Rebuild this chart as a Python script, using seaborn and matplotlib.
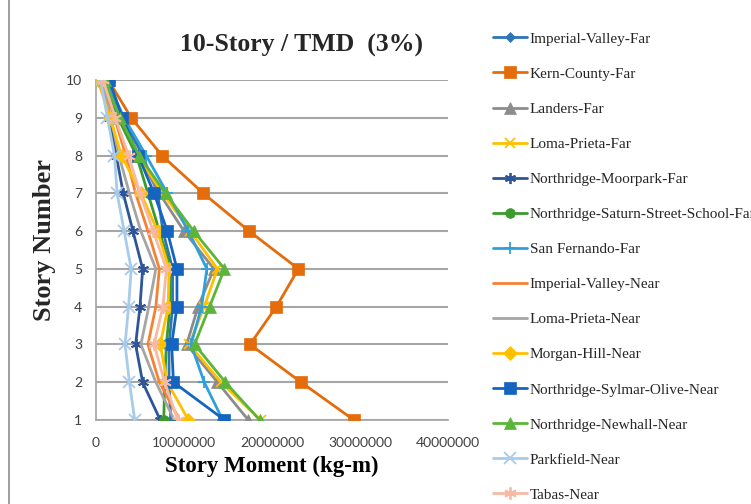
import numpy as np
import pandas as pd
import matplotlib
matplotlib.use("Agg")
import matplotlib.pyplot as plt
import seaborn as sns
from matplotlib.lines import Line2D

stories = [1, 2, 3, 4, 5, 6, 7, 8, 9, 10]

records = [
    "Imperial-Valley-Far", "Kern-County-Far", "Landers-Far", "Loma-Prieta-Far",
    "Northridge-Moorpark-Far", "Northridge-Saturn-Street-School-Far", "San Fernando-Far",
    "Imperial-Valley-Near", "Loma-Prieta-Near", "Morgan-Hill-Near",
    "Northridge-Sylmar-Olive-Near", "Northridge-Newhall-Near", "Parkfield-Near", "Tabas-Near",
]

# story moment (kg-m), story 1 -> 10
imperial_valley_far = [8.5e6, 8.3e6, 8.3e6, 8.7e6, 8.7e6, 7.6e6, 7.0e6, 5.3e6, 3.1e6, 1.1e6]
kern_county_far = [2.93e7, 2.33e7, 1.75e7, 2.05e7, 2.30e7, 1.74e7, 1.22e7, 7.5e6, 4.0e6, 1.4e6]
landers_far = [1.73e7, 1.38e7, 1.03e7, 1.16e7, 1.34e7, 1.00e7, 7.2e6, 4.8e6, 2.6e6, 0.9e6]
loma_prieta_far = [1.87e7, 1.42e7, 1.06e7, 1.23e7, 1.38e7, 1.07e7, 7.6e6, 4.7e6, 2.6e6, 0.3e6]
moorpark_far = [7.3e6, 5.3e6, 4.5e6, 5.0e6, 5.3e6, 4.2e6, 3.1e6, 2.3e6, 1.5e6, 1.0e6]
saturn_far = [7.7e6, 7.8e6, 8.0e6, 8.4e6, 8.5e6, 7.2e6, 5.9e6, 4.6e6, 2.5e6, 0.9e6]
san_fernando_far = [1.44e7, 1.23e7, 1.08e7, 1.20e7, 1.26e7, 1.05e7, 8.1e6, 5.7e6, 3.2e6, 1.2e6]
imperial_valley_near = [9.5e6, 7.2e6, 5.9e6, 6.8e6, 7.2e6, 5.9e6, 4.5e6, 3.4e6, 2.1e6, 0.7e6]
loma_prieta_near = [8.9e6, 6.8e6, 5.1e6, 6.0e6, 6.8e6, 5.1e6, 3.8e6, 2.6e6, 1.7e6, 0.6e6]
morgan_hill_near = [1.05e7, 8.1e6, 7.3e6, 8.2e6, 8.3e6, 7.0e6, 5.1e6, 2.9e6, 1.6e6, 0.2e6]
sylmar_near = [1.46e7, 8.8e6, 8.6e6, 9.2e6, 9.2e6, 8.1e6, 6.6e6, 4.8e6, 3.0e6, 1.5e6]
newhall_near = [1.86e7, 1.47e7, 1.12e7, 1.29e7, 1.46e7, 1.11e7, 7.9e6, 4.9e6, 2.7e6, 1.0e6]
parkfield_near = [4.4e6, 3.8e6, 3.3e6, 3.7e6, 4.0e6, 3.2e6, 2.4e6, 2.1e6, 1.3e6, 0.5e6]
tabas_near = [9.3e6, 7.8e6, 6.6e6, 7.6e6, 8.0e6, 6.5e6, 5.0e6, 3.7e6, 2.2e6, 0.8e6]

values = [
    imperial_valley_far, kern_county_far, landers_far, loma_prieta_far, moorpark_far,
    saturn_far, san_fernando_far, imperial_valley_near, loma_prieta_near, morgan_hill_near,
    sylmar_near, newhall_near, parkfield_near, tabas_near,
]

x_ticks = [0, 10000000, 20000000, 30000000, 40000000]

ASTER = (6, 2, 0)
styles = [
    ("#2E75B6", "D", 5, True),
    ("#E46C0A", "s", 8, True),
    ("#8C8C8C", "^", 8, True),
    ("#FFC000", "x", 7, False),
    ("#2F5597", ASTER, 8, False),
    ("#3B9A2E", "o", 7, True),
    ("#2FA0DC", "+", 8, False),
    ("#F58233", "", 0, True),
    ("#A5A5A5", "", 0, True),
    ("#FFC000", "D", 7, True),
    ("#1565C0", "s", 9, True),
    ("#5BB53B", "^", 9, True),
    ("#A9CBEA", "x", 9, False),
    ("#F7B9A2", ASTER, 9, False),
]

sns.set_theme(style="white")
plt.rcParams["font.family"] = ["Lato", "DejaVu Sans"]

fig = plt.figure(figsize=(7.51, 5.04), dpi=100)
ax = fig.add_axes([96 / 751, 1 - 420 / 504, (448 - 96) / 751, (420 - 80) / 504])

for i, (name, vals) in enumerate(zip(records, values)):
    color, marker, ms, filled = styles[i]
    df = pd.DataFrame({"moment": vals, "story": stories})
    kw = dict(color=color, linewidth=2.0, label=name, zorder=3 + i)
    if marker != "":
        kw.update(marker=marker, markersize=ms, markeredgecolor=color,
                  markeredgewidth=1.3 if not filled else 0.5)
    sns.lineplot(data=df, x="moment", y="story", ax=ax, sort=False, orient="y",
                 errorbar=None, **kw)

ax.set_xlim(0, 40000000)
ax.set_ylim(1, 10)
ax.set_xticks(x_ticks)
ax.set_xticklabels([str(t) for t in x_ticks])
ax.set_yticks(stories)
ax.grid(axis="y", color="#A6A6A6", linewidth=1.5)
ax.grid(axis="x", visible=False)
ax.set_axisbelow(True)
for s in ["top", "right"]:
    ax.spines[s].set_visible(False)
ax.spines["left"].set_color("#A6A6A6")
ax.spines["bottom"].set_color("#A6A6A6")
ax.tick_params(axis="both", length=0, labelsize=10, colors="#404040")
ax.tick_params(axis="x", pad=12)
ax.tick_params(axis="y", pad=10)

ax.set_ylabel("")
ax.set_xlabel("Story Moment (kg-m)", family="Liberation Serif", fontweight="bold",
              fontsize=16.5, color="black", labelpad=5)
fig.text(45 / 751, 1 - 240 / 504, "Story Number", family="Liberation Serif",
         fontweight="bold", fontsize=19, rotation=90, ha="center", va="center")
fig.text(302 / 751, 1 - 45 / 504, "10-Story / TMD  (3%)", family="Liberation Serif",
         fontweight="bold", fontsize=18.5, ha="center", va="center")

handles, labels = ax.get_legend_handles_labels()
ax.get_legend().remove()
fig.legend(handles, labels, loc="upper left", bbox_to_anchor=(493 / 751, 1 - 32 / 504),
           frameon=False, prop={"family": "Liberation Serif", "size": 11},
           labelspacing=1.40, handlelength=2.2, handletextpad=0.2, borderaxespad=0,
           borderpad=0)

fig.add_artist(Line2D([9 / 751, 9 / 751], [0, 1], color="#8C8C8C", linewidth=1.2,
                      transform=fig.transFigure))

fig.savefig("out.png", dpi=100)
